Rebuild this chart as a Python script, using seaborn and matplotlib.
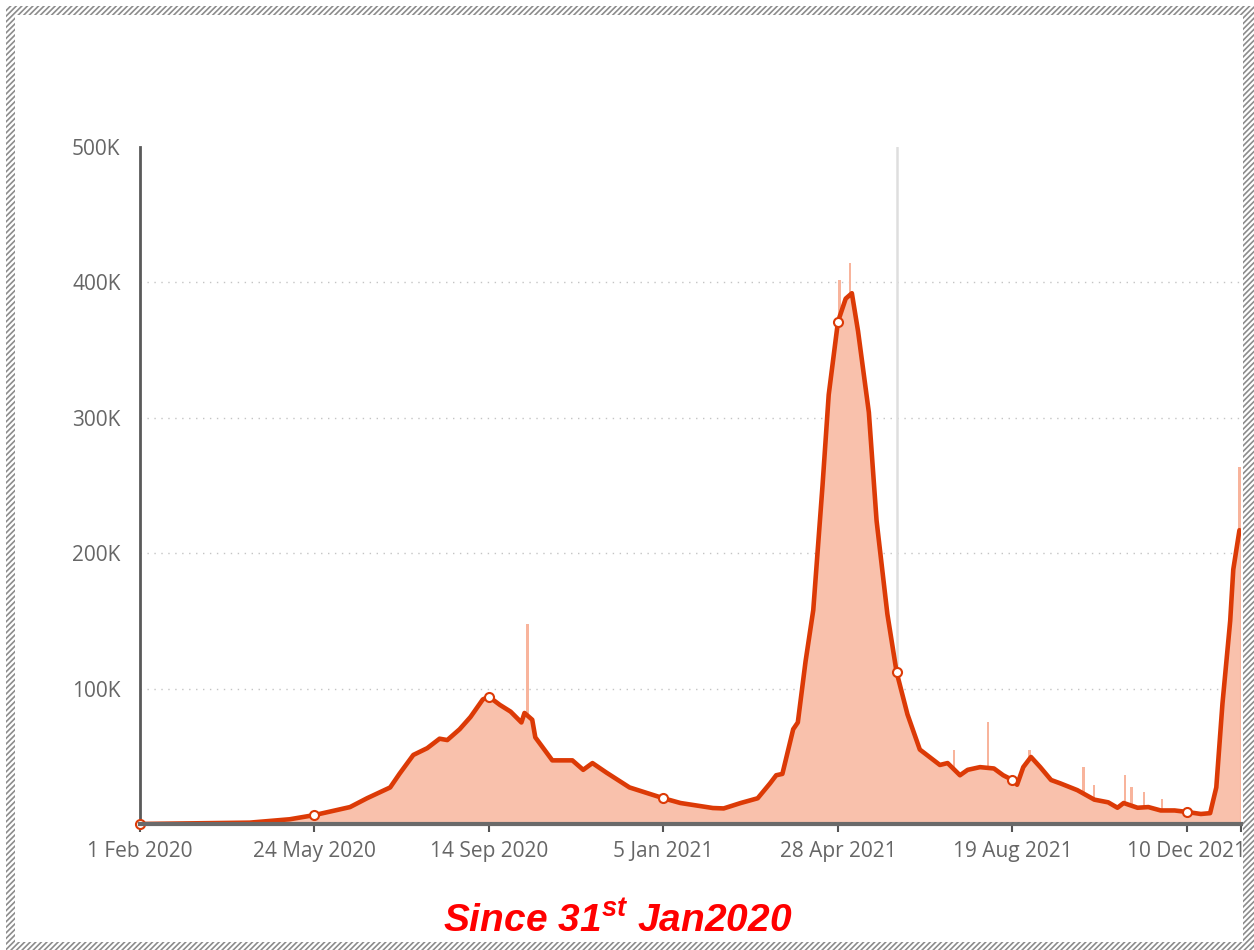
import matplotlib
matplotlib.use("Agg")
import matplotlib.pyplot as plt
from matplotlib.patches import Rectangle
from matplotlib.ticker import FuncFormatter
import seaborn as sns
import pandas as pd

# 7-day average of daily new cases (thousands)
avg_dates = ["2020-02-01", "2020-04-12", "2020-05-08", "2020-05-24", "2020-06-16",
             "2020-06-27", "2020-07-12", "2020-07-18", "2020-07-27", "2020-08-05",
             "2020-08-13", "2020-08-18", "2020-08-26", "2020-09-02", "2020-09-10",
             "2020-09-14", "2020-09-21", "2020-09-28", "2020-10-05", "2020-10-07",
             "2020-10-12", "2020-10-14", "2020-10-25", "2020-11-07", "2020-11-14",
             "2020-11-20", "2020-11-29", "2020-12-14", "2021-01-05", "2021-01-16",
             "2021-02-06", "2021-02-13", "2021-02-24", "2021-03-07", "2021-03-15",
             "2021-03-19", "2021-03-23", "2021-03-30", "2021-04-02", "2021-04-07",
             "2021-04-12", "2021-04-18", "2021-04-22", "2021-04-28", "2021-05-03",
             "2021-05-07", "2021-05-11", "2021-05-18", "2021-05-23", "2021-05-30",
             "2021-06-05", "2021-06-12", "2021-06-20", "2021-07-03", "2021-07-08",
             "2021-07-16", "2021-07-21", "2021-07-29", "2021-08-07", "2021-08-13",
             "2021-08-19", "2021-08-22", "2021-08-26", "2021-08-31", "2021-09-06",
             "2021-09-13", "2021-09-19", "2021-09-30", "2021-10-11", "2021-10-20",
             "2021-10-26", "2021-10-30", "2021-11-08", "2021-11-15", "2021-11-23",
             "2021-12-02", "2021-12-10", "2021-12-19", "2021-12-25", "2021-12-29",
             "2022-01-02", "2022-01-07", "2022-01-09", "2022-01-13"]
avg_values = [0, 1.0, 3.5, 6.6, 12.5,
              19, 27, 37, 51, 56,
              63, 62, 70, 79, 92,
              94, 88, 83, 75, 82,
              77, 64, 47, 47, 40,
              45, 38, 27, 19, 15.5,
              11.8, 11.5, 15.5, 19, 30,
              36, 37, 70, 75, 120,
              158, 250, 317, 371, 388,
              392, 364, 304, 224, 155,
              112, 81, 55, 43.6, 45,
              36, 40, 42, 41, 36,
              32.5, 29, 42, 49.5, 42,
              32.5, 30, 25, 18, 16,
              12, 15.5, 12, 12.5, 10,
              10, 8.9, 7.4, 8, 27,
              89, 150, 188, 217]

# single-day bars that stick out above the average (thousands)
spike_dates = ["2020-10-09", "2021-04-29", "2021-05-06", "2021-07-12", "2021-08-03",
               "2021-08-30", "2021-10-04", "2021-10-11", "2021-10-31", "2021-11-04",
               "2021-11-12", "2021-11-24", "2022-01-13"]
spike_values = [148, 402, 414, 55, 75,
                55, 42, 29, 36, 27,
                24, 18.5, 264]

marker_dates = ["2020-02-01", "2020-05-24", "2020-09-14", "2021-01-05",
                "2021-04-28", "2021-06-05", "2021-08-19", "2021-12-10"]
hover_date = "2021-06-05"

tick_dates = ["2020-02-01", "2020-05-24", "2020-09-14", "2021-01-05",
              "2021-04-28", "2021-08-19", "2021-12-10"]
tick_labels = ["1 Feb 2020", "24 May 2020", "14 Sep 2020", "5 Jan 2021",
               "28 Apr 2021", "19 Aug 2021", "10 Dec 2021"]
x_start, x_end = "2020-02-01", "2022-01-14"
y_ticks = [100, 200, 300, 400, 500]

sns.set_style("white")
plt.rcParams["font.family"] = ["Open Sans", "DejaVu Sans"]
plt.rcParams["mathtext.fontset"] = "custom"
plt.rcParams["mathtext.it"] = "Liberation Sans:bold:italic"
plt.rcParams["mathtext.rm"] = "Liberation Sans:bold:italic"
plt.rcParams["hatch.linewidth"] = 1.2

df = pd.DataFrame({"date": pd.to_datetime(avg_dates),
                   "cases": [v * 1000 for v in avg_values]})
spikes = pd.DataFrame({"date": pd.to_datetime(spike_dates),
                       "cases": [v * 1000 for v in spike_values]})

W, H = 1254, 950
fig = plt.figure(figsize=(W / 100, H / 100), dpi=100)
ax = fig.add_axes([140 / W, 1 - 824 / H, (1241 - 140) / W, (824 - 147) / H])

line_c = "#dc3a06"
fill_c = "#f9c1ac"

ax.fill_between(df["date"], df["cases"], color=fill_c, lw=0, zorder=2)
ax.bar(spikes["date"], spikes["cases"], width=1.5, color="#f8b49c",
       edgecolor="none", lw=0, zorder=1.5)
ax.axvline(pd.Timestamp(hover_date), color="#dedede", lw=1.8, zorder=1)
sns.lineplot(data=df, x="date", y="cases", ax=ax, color=line_c, lw=3.3, zorder=4,
             solid_joinstyle="round", solid_capstyle="round")
mk = df[df["date"].isin(pd.to_datetime(marker_dates))]
ax.plot(mk["date"], mk["cases"], "o", ms=6.5, mfc="white", mec=line_c, mew=1.5,
        zorder=5, clip_on=False)

ax.set_xlim(pd.Timestamp(x_start), pd.Timestamp(x_end))
ax.set_ylim(0, 500000)
ax.set_xticks(pd.to_datetime(tick_dates))
ax.set_xticklabels(tick_labels)
ax.set_xticks([pd.Timestamp(x_end)], minor=True)
ax.set_yticks([v * 1000 for v in y_ticks])
ax.yaxis.set_major_formatter(FuncFormatter(lambda v, p: f"{int(v / 1000)}K"))
ax.set_xlabel("")
ax.set_ylabel("")

ax.tick_params(axis="x", which="both", length=6, width=1.5, color="#555555",
               labelsize=15, labelcolor="#666666", pad=6, direction="out", bottom=True)
ax.tick_params(axis="y", length=0, labelsize=15, labelcolor="#666666", pad=14)

ax.yaxis.grid(True, color="#c4c4c4", lw=1, ls=(0, (1, 4)))
ax.xaxis.grid(False)
ax.get_ygridlines()[-1].set_visible(False)

for s in ["top", "right"]:
    ax.spines[s].set_visible(False)
ax.spines["left"].set_color("#5a5a5a")
ax.spines["left"].set_linewidth(2)
ax.spines["bottom"].set_color("#6a6a6a")
ax.spines["bottom"].set_linewidth(3)
ax.spines["bottom"].set_zorder(6)

fig.text(618 / W, 1 - 932 / H, "Since 31$^{st}$ Jan2020", ha="center", va="baseline",
         color="#ff0000", fontsize=28, fontweight="bold", style="italic",
         family="Liberation Sans")

# hatched picture frame
for x0, y0, x1, y1 in [(6, 6, W, 15), (6, 6, 15, H), (1243, 6, W, H), (6, 942, W, H)]:
    fig.add_artist(Rectangle((x0 / W, 1 - y1 / H), (x1 - x0) / W, (y1 - y0) / H,
                             transform=fig.transFigure, facecolor="white",
                             edgecolor="#8c8c8c", hatch="//////", lw=0, zorder=10))

fig.savefig("out.png", dpi=100)
